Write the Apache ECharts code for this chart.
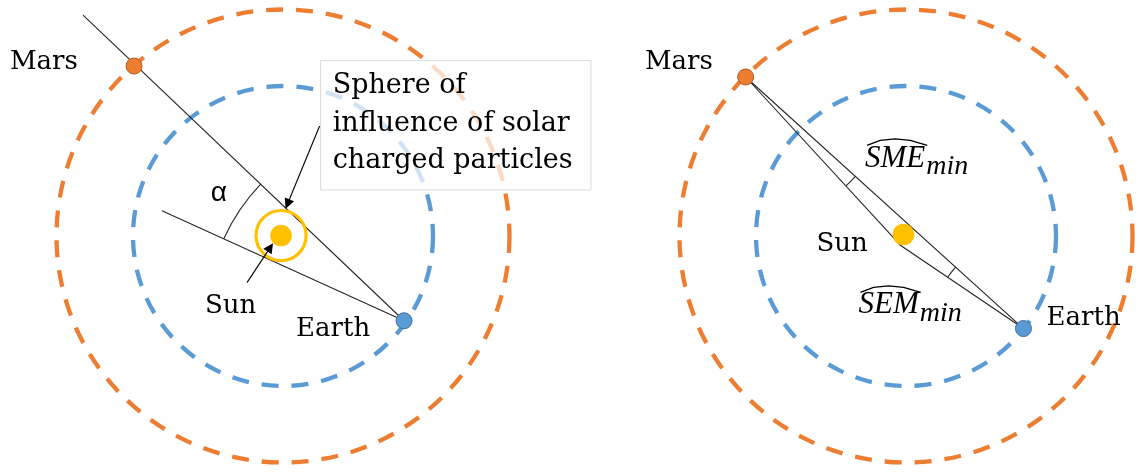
<!DOCTYPE html>
<html>
<head>
<meta charset="utf-8">
<script src="https://cdn.jsdelivr.net/npm/echarts@6/dist/echarts.min.js"></script>
<style>
  html, body { margin: 0; padding: 0; background: #fff; }
  #chart { width: 1138px; height: 473px; }
</style>
</head>
<body>
<div id="chart"></div>
<script>
'use strict';

// ── Data (AU, Sun-centred orbit frame, y up) ──────────────────────────────────
const orbitNames   = ['Earth', 'Mars'];
const orbitRadii   = [1.0, 1.51];
const sunRadius    = 0.072;
const sphereRadius = 0.167;

// left panel: Mars–Earth line vs. sphere of influence
const leftSun      = [-0.013, 0.003];
const leftMars     = [-0.993, 1.133];
const leftEarth    = [0.807, -0.565];
const leftLineEnd  = [-1.333, 1.473];
const leftLowEnd   = [-0.807, 0.169];
const alphaRadius  = 1.32;
const arrowSphere  = [[0.244, 0.733], [0.03, 0.213]];
const arrowSun     = [[-0.24, -0.311], [-0.085, -0.076]];
const boxCorners   = [0.251, 1.169, 2.053, 0.307];
const boxLines     = ['Sphere of', 'influence of solar', 'charged particles'];
const leftLabels   = [['Mars', -1.82, 1.16], ['Sun', -0.52, -0.47], ['Earth', 0.087, -0.62]];
const alphaLabel   = ['α', -0.427, 0.287];

// right panel: minimum angles SME / SEM
const rightSun     = [-0.017, 0.01];
const rightMars    = [-1.069, 1.06];
const rightEarth   = [0.783, -0.617];
const rightBend    = [[-0.087, -0.007], [-0.04, -0.06]];
const smeRadius    = 0.987;
const semRadius    = 0.61;
const rightLabels  = [['Mars', -1.74, 1.16], ['Sun', -0.597, -0.058], ['Earth', 0.937, -0.55]];
const mathLabels   = [['SME', 'min', -0.273, 0.517], ['SEM', 'min', -0.317, -0.462]];

// ── Layout / style ────────────────────────────────────────────────────────────
const PX      = 150;        // pixels per AU
const PANEL_W = 569;
const CHART_H = 473;
const panels  = [{ left: 0, cx: 283, cy: 236 }, { left: 569, cx: 906, cy: 236 }];

const ORBIT_COLORS = { Earth: '#5B9BD5', Mars: '#ED7D31' };
const LINE_COLOR   = '#262626';
const SERIF        = '"DejaVu Serif", serif';
const MATH_FONT    = '"Liberation Serif", serif';
const LABEL_FONT   = '26px ' + SERIF;

const measureCtx = document.createElement('canvas').getContext('2d');
function textWidth(txt, font) { measureCtx.font = font; return measureCtx.measureText(txt).width; }

// ── Series builders ───────────────────────────────────────────────────────────
function orbitSeries(p) {
  return {
    type: 'custom', xAxisIndex: p, yAxisIndex: p, silent: true, z: 1,
    data: orbitRadii.map((r, i) => [0, 0, r, i]),
    renderItem: (params, api) => {
      const c = api.coord([api.value(0), api.value(1)]);
      const r = api.size([api.value(2), 0])[0];
      return {
        type: 'circle',
        shape: { cx: c[0], cy: c[1], r },
        style: { fill: 'none', stroke: ORBIT_COLORS[orbitNames[api.value(3)]], lineWidth: 4.3, lineDash: [17, 13] }
      };
    }
  };
}

// bodies drawn with their radius in AU: 0 = sphere ring, 1 = sun disc
function sunSeries(p, sun, withSphere) {
  const data = [];
  if (withSphere) data.push([sun[0], sun[1], sphereRadius, 0]);
  data.push([sun[0], sun[1], sunRadius, 1]);
  return {
    type: 'custom', xAxisIndex: p, yAxisIndex: p, silent: true, z: 6,
    data,
    renderItem: (params, api) => {
      const c = api.coord([api.value(0), api.value(1)]);
      const r = api.size([api.value(2), 0])[0];
      const ring = api.value(3) === 0;
      return {
        type: 'circle',
        shape: { cx: c[0], cy: c[1], r },
        style: ring ? { fill: 'none', stroke: '#FFC000', lineWidth: 3.2 } : { fill: '#FFC000' }
      };
    }
  };
}

// angle arc: centre, radius, and two points that fix the rays
function arcSeries(p, arcs) {
  return {
    type: 'custom', xAxisIndex: p, yAxisIndex: p, silent: true, z: 4,
    data: arcs,
    renderItem: (params, api) => {
      const c  = api.coord([api.value(0), api.value(1)]);
      const r  = api.size([api.value(2), 0])[0];
      const pa = api.coord([api.value(3), api.value(4)]);
      const pb = api.coord([api.value(5), api.value(6)]);
      let a = Math.atan2(pa[1] - c[1], pa[0] - c[0]);
      let b = Math.atan2(pb[1] - c[1], pb[0] - c[0]);
      if (b - a > Math.PI) b -= 2 * Math.PI;
      if (a - b > Math.PI) a -= 2 * Math.PI;
      return {
        type: 'arc',
        shape: { cx: c[0], cy: c[1], r, startAngle: Math.min(a, b), endAngle: Math.max(a, b), clockwise: true },
        style: { fill: 'none', stroke: LINE_COLOR, lineWidth: 1.1 }
      };
    }
  };
}

function segSeries(p, paths) {
  return {
    type: 'lines', coordinateSystem: 'cartesian2d', xAxisIndex: p, yAxisIndex: p,
    polyline: true, silent: true, z: 3,
    lineStyle: { color: LINE_COLOR, width: 1.1, opacity: 1 },
    data: paths.map(coords => ({ coords }))
  };
}

function arrowSeries(p, arrows) {
  return {
    type: 'lines', coordinateSystem: 'cartesian2d', xAxisIndex: p, yAxisIndex: p,
    silent: true, z: 7,
    symbol: ['none', 'triangle'], symbolSize: [8, 10],
    lineStyle: { color: '#000', width: 1.1, opacity: 1, curveness: 0 },
    data: arrows.map(coords => ({ coords }))
  };
}

function planetSeries(p, mars, earth) {
  return {
    type: 'scatter', xAxisIndex: p, yAxisIndex: p, silent: true, z: 7,
    symbolSize: 16,
    data: [
      { value: mars,  itemStyle: { color: '#ED7D31', borderColor: '#AE5A21', borderWidth: 1, opacity: 1 } },
      { value: earth, itemStyle: { color: '#5B9BD5', borderColor: '#41719C', borderWidth: 1, opacity: 1 } }
    ]
  };
}

function textSeries(p, labels, font, align) {
  return {
    type: 'custom', xAxisIndex: p, yAxisIndex: p, silent: true, z: 8,
    data: labels.map((l, i) => [l[1], l[2], i]),
    renderItem: (params, api) => {
      const c = api.coord([api.value(0), api.value(1)]);
      return {
        type: 'text',
        style: { text: labels[api.value(2)][0], x: c[0], y: c[1], font, fill: '#000', align, verticalAlign: 'middle' }
      };
    }
  };
}

function boxSeries() {
  return {
    type: 'custom', xAxisIndex: 0, yAxisIndex: 0, silent: true, z: 5,
    data: [boxCorners],
    renderItem: (params, api) => {
      const tl = api.coord([api.value(0), api.value(1)]);
      const br = api.coord([api.value(2), api.value(3)]);
      return {
        type: 'group',
        children: [
          { type: 'rect', shape: { x: tl[0], y: tl[1], width: br[0] - tl[0], height: br[1] - tl[1] },
            style: { fill: 'rgba(255,255,255,0.72)', stroke: '#d9d9d9', lineWidth: 1 } },
          { type: 'text',
            style: { text: boxLines.join('\n'), x: tl[0] + 12, y: tl[1] + 7, font: '27px ' + SERIF,
                     lineHeight: 37.5, fill: '#000', align: 'left', verticalAlign: 'top' } }
        ]
      };
    }
  };
}

function mathSeries() {
  const mainFont = 'italic 31px ' + MATH_FONT;
  const subFont  = 'italic 28px ' + MATH_FONT;
  return {
    type: 'custom', xAxisIndex: 1, yAxisIndex: 1, silent: true, z: 8,
    data: mathLabels.map((m, i) => [m[2], m[3], i]),
    renderItem: (params, api) => {
      const m = mathLabels[api.value(2)];
      const c = api.coord([api.value(0), api.value(1)]);
      const w = textWidth(m[0], mainFont);
      return {
        type: 'group',
        children: [
          { type: 'text', style: { text: m[0], x: c[0], y: c[1], font: mainFont, fill: '#000', align: 'left', verticalAlign: 'middle' } },
          { type: 'text', style: { text: m[1], x: c[0] + w + 1, y: c[1] + 8, font: subFont, fill: '#000', align: 'left', verticalAlign: 'middle' } },
          { type: 'polyline',
            shape: { points: [[c[0] + 2, c[1] - 13], [c[0] + w * 0.25, c[1] - 18], [c[0] + w * 0.5, c[1] - 19.5],
                              [c[0] + w * 0.75, c[1] - 18], [c[0] + w + 2, c[1] - 13]] },
            style: { fill: 'none', stroke: '#000', lineWidth: 1.3 } }
        ]
      };
    }
  };
}

// ── Chart ─────────────────────────────────────────────────────────────────────
const chart = echarts.init(document.getElementById('chart'), null, { renderer: 'canvas' });

chart.setOption({
  animation: false,
  backgroundColor: '#fff',
  grid: panels.map(p => ({ left: p.left, top: 0, width: PANEL_W, height: CHART_H })),
  xAxis: panels.map((p, i) => ({
    type: 'value', gridIndex: i, show: false,
    min: (p.left - p.cx) / PX, max: (p.left + PANEL_W - p.cx) / PX
  })),
  yAxis: panels.map((p, i) => ({
    type: 'value', gridIndex: i, show: false,
    min: (p.cy - CHART_H) / PX, max: p.cy / PX
  })),
  series: [
    // left panel
    orbitSeries(0),
    segSeries(0, [[leftLineEnd, leftEarth], [leftLowEnd, leftEarth]]),
    arcSeries(0, [[leftEarth[0], leftEarth[1], alphaRadius, leftLineEnd[0], leftLineEnd[1], leftLowEnd[0], leftLowEnd[1]]]),
    boxSeries(),
    sunSeries(0, leftSun, true),
    arrowSeries(0, [arrowSphere, arrowSun]),
    planetSeries(0, leftMars, leftEarth),
    textSeries(0, leftLabels, LABEL_FONT, 'left'),
    textSeries(0, [alphaLabel], '28px "Liberation Sans", sans-serif', 'center'),
    // right panel
    orbitSeries(1),
    segSeries(1, [[rightMars, rightEarth], [rightMars, rightBend[0], rightBend[1], rightEarth]]),
    arcSeries(1, [
      [rightMars[0], rightMars[1], smeRadius, rightEarth[0], rightEarth[1], rightBend[0][0], rightBend[0][1]],
      [rightEarth[0], rightEarth[1], semRadius, rightMars[0], rightMars[1], rightBend[1][0], rightBend[1][1]]
    ]),
    sunSeries(1, rightSun, false),
    planetSeries(1, rightMars, rightEarth),
    textSeries(1, rightLabels, LABEL_FONT, 'left'),
    mathSeries()
  ]
});

window.addEventListener('resize', () => chart.resize());
</script>
</body>
</html>
